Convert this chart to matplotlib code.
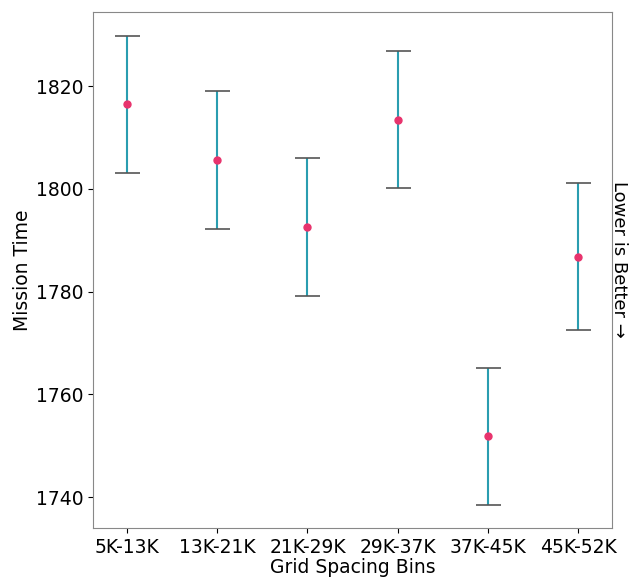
import matplotlib
matplotlib.use("Agg")
import matplotlib.pyplot as plt
import numpy as np

categories = ["5K-13K", "13K-21K", "21K-29K", "29K-37K", "37K-45K", "45K-52K"]
means = [1816.5, 1805.6, 1792.6, 1813.5, 1751.8, 1786.8]
errors = [13.3, 13.4, 13.4, 13.3, 13.4, 14.3]

fig = plt.figure(figsize=(6.29, 5.8), dpi=100)
ax = fig.add_axes([0.148, 0.0897, 0.825, 0.889])

x = np.arange(len(categories))
cont = ax.errorbar(x, means, yerr=errors, fmt="none", ecolor="#2a9db0", elinewidth=1.5,
                   capsize=9, capthick=1.2, zorder=2)
for cap in cont[1]:
    cap.set_markeredgecolor("#555555")
ax.plot(x, means, "o", color="#e8336d", markersize=5, zorder=4)

fs = 13.5
ax.set_xlim(-0.377, 5.377)
ax.set_ylim(1733.97, 1834.4)
ax.set_xticks(x)
ax.set_xticklabels(categories, fontsize=fs)
ax.set_yticks([1740, 1760, 1780, 1800, 1820])
ax.tick_params(axis="y", labelsize=fs)
ax.set_xlabel("Grid Spacing Bins", fontsize=fs, labelpad=1)
ax.set_ylabel("Mission Time", fontsize=fs, labelpad=3)
for s in ax.spines.values():
    s.set_color("#888888")

ax.text(1.0125, 0.52, "Lower is Better \u2192", transform=ax.transAxes, rotation=-90,
        ha="center", va="center", fontsize=13)

fig.savefig("out.png", dpi=100)
